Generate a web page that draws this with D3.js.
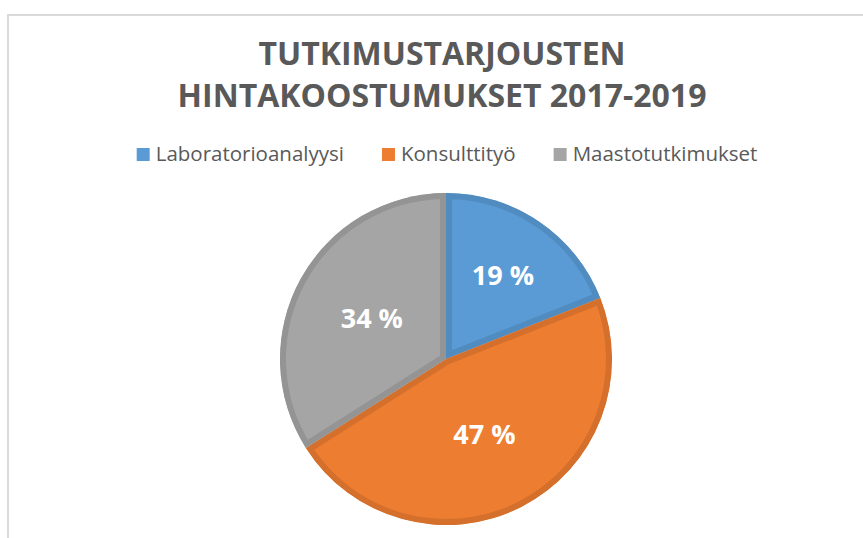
<!DOCTYPE html>
<html>
<head>
    <meta charset="utf-8">
    <title>Tutkimustarjousten hintakoostumukset 2017-2019</title>
    <style>
        body { margin: 0; background: #fff; }
        svg { display: block; }
    </style>
</head>
<body>
<div class="chart-container"></div>
<script src="https://cdn.jsdelivr.net/npm/d3@7"></script>
<script>
    // chart data
    var titleLines = ['TUTKIMUSTARJOUSTEN', 'HINTAKOOSTUMUKSET 2017-2019'];
    var categories = ['Laboratorioanalyysi', 'Konsulttityö', 'Maastotutkimukset'];
    var shares = [19, 47, 34];
    var fillColors = ['#5b9bd5', '#ed7d31', '#a5a5a5'];
    var strokeColors = ['#518cc1', '#d5702c', '#949494'];

    var width = 863, height = 538;
    var textColor = '#595959';
    var font = '"Open Sans", "Noto Sans", sans-serif';

    var data = categories.map(function (c, i) {
        return { name: c, value: shares[i], fill: fillColors[i], stroke: strokeColors[i] };
    });

    var svg = d3.select('.chart-container').append('svg')
            .attr('width', width)
            .attr('height', height);

    // chart area border (cut off at right and bottom)
    svg.append('rect')
            .attr('x', 8)
            .attr('y', 15)
            .attr('width', width + 20)
            .attr('height', height + 20)
            .style('fill', 'none')
            .style('stroke', '#d9d9d9')
            .style('stroke-width', 2);

    // title
    svg.append('g')
            .attr('class', 'title')
            .selectAll('text')
            .data(titleLines)
            .enter()
            .append('text')
            .attr('x', 442)
            .attr('y', function (d, i) { return 65 + i * 42; })
            .attr('text-anchor', 'middle')
            .style('font-family', font)
            .style('font-weight', 'bold')
            .style('font-size', '32px')
            .style('fill', textColor)
            .text(function (d) { return d; });

    // legend
    var legend = svg.append('g').attr('class', 'legend');
    var items = legend.selectAll('g')
            .data(data)
            .enter()
            .append('g');

    items.append('rect')
            .attr('width', 13)
            .attr('height', 13)
            .attr('y', 148)
            .style('fill', function (d) { return d.fill; });

    items.append('text')
            .attr('x', 19)
            .attr('y', 161)
            .style('font-family', font)
            .style('font-size', '20.5px')
            .style('fill', textColor)
            .text(function (d) { return d.name; });

    // lay items out in a row, centred
    var gap = 38, offsets = [], total = 0;
    items.each(function () {
        var w = this.getBBox().width;
        offsets.push(total);
        total += w + gap;
    });
    total -= gap;
    var legendX = 447 - total / 2;
    items.attr('transform', function (d, i) { return 'translate(' + (legendX + offsets[i]) + ',0)'; });

    // pie
    var cx = 446, cy = 359, radius = 166;
    var pie = d3.pie()
            .sort(null)
            .value(function (d) { return d.value; });

    var arc = d3.arc()
            .innerRadius(0)
            .outerRadius(radius);

    var arcs = pie(data);

    var gPie = svg.append('g')
            .attr('class', 'pie')
            .attr('transform', 'translate(' + cx + ',' + cy + ')');

    var defs = svg.append('defs');
    defs.selectAll('clipPath')
            .data(arcs)
            .enter()
            .append('clipPath')
            .attr('id', function (d, i) { return 'slice-clip-' + i; })
            .append('path')
            .attr('d', arc);

    // inner outline: a wide stroke clipped to the slice itself
    gPie.selectAll('path.slice')
            .data(arcs)
            .enter()
            .append('path')
            .attr('class', 'slice')
            .attr('d', arc)
            .attr('clip-path', function (d, i) { return 'url(#slice-clip-' + i + ')'; })
            .style('fill', function (d) { return d.data.fill; })
            .style('stroke', function (d) { return d.data.stroke; })
            .style('stroke-width', 12)
            .style('stroke-linejoin', 'miter');

    // percentage labels, small slices pushed further out
    function labelArc(d) {
        var r = d.data.value < 25 ? radius * 0.61 : radius * 0.51;
        return d3.arc().innerRadius(r).outerRadius(r).centroid(d);
    }

    gPie.selectAll('text.label')
            .data(arcs)
            .enter()
            .append('text')
            .attr('class', 'label')
            .attr('transform', function (d) { return 'translate(' + labelArc(d) + ')'; })
            .attr('text-anchor', 'middle')
            .attr('dy', '0.36em')
            .style('font-family', font)
            .style('font-weight', 'bold')
            .style('font-size', '27px')
            .style('fill', '#fff')
            .text(function (d) { return d.data.value + ' %'; });
</script>
</body>
</html>
